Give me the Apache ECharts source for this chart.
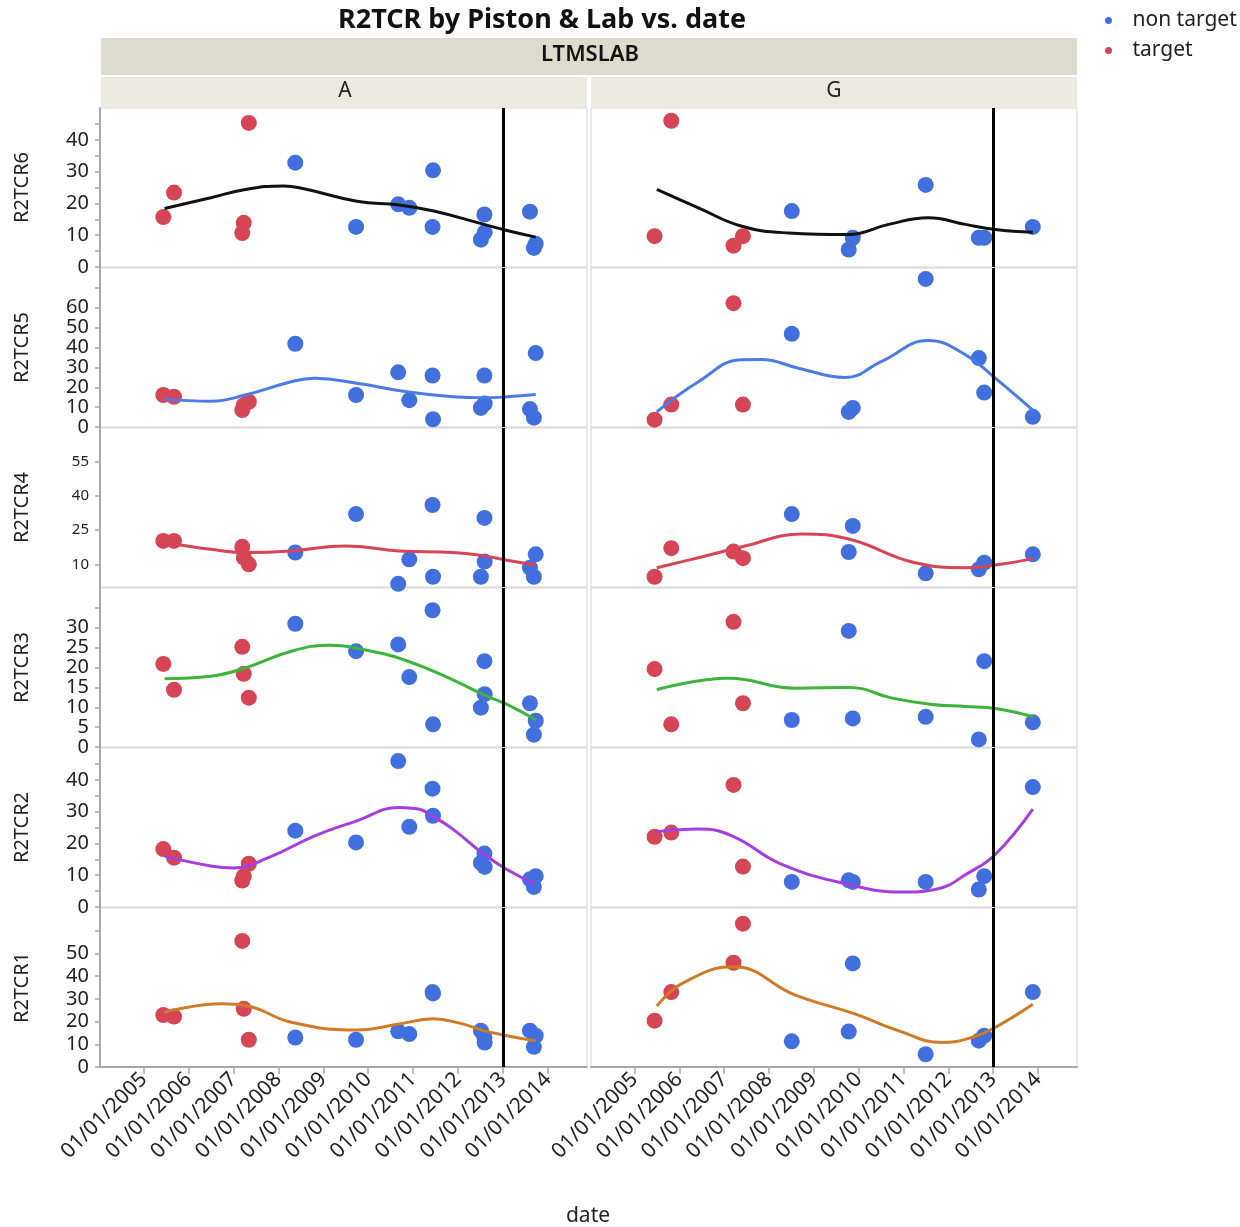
<!DOCTYPE html>
<html><head><meta charset="utf-8">
<script src="https://cdn.jsdelivr.net/npm/echarts@6/dist/echarts.min.js"></script>
<style>html,body{margin:0;padding:0;background:#fff}#c{width:1240px;height:1227px}</style>
</head><body><div id="c"></div><script>
// ---------- data ----------
const measures = ['R2TCR6','R2TCR5','R2TCR4','R2TCR3','R2TCR2','R2TCR1'];
const labs = ['A','G'];
const groups = ['non target','target'];
const yearTicks = ['2005-01-01','2006-01-01','2007-01-01','2008-01-01','2009-01-01','2010-01-01','2011-01-01','2012-01-01','2013-01-01','2014-01-01'];
const refDate = '2013-01-01';
const xRange = ['2004-01-12','2014-11-15'];

const datesA = ['2005-06-10','2005-09-05','2007-03-14','2007-03-26','2007-05-06','2008-05-18','2009-09-24','2010-09-02','2010-12-01','2011-06-08','2011-06-12','2012-07-05','2012-08-03','2012-08-05','2013-08-08','2013-09-09','2013-09-24'];
const groupA = ['target','target','target','target','target','non target','non target','non target','non target','non target','non target','non target','non target','non target','non target','non target','non target'];
const datesG = ['2005-06-13','2005-10-27','2007-03-18','2007-06-03','2008-07-05','2009-10-12','2009-11-14','2011-07-01','2012-09-06','2012-10-20','2013-11-20'];
const groupG = ['target','target','target','target','non target','non target','non target','non target','non target','non target','non target'];

const R2TCR6_A = [15.7,23.4,10.7,13.9,45.3,32.8,12.6,19.7,18.6,12.6,30.4,8.6,16.5,10.9,17.4,6.0,7.3];
const R2TCR5_A = [16.1,15.2,8.5,11.0,12.7,41.9,16.1,27.5,13.5,25.9,3.9,9.6,25.9,11.8,9.0,4.7,37.2];
const R2TCR4_A = [20.3,20.3,17.7,13.0,10.0,15.2,32.1,1.4,12.2,36.1,4.5,4.5,30.4,11.2,8.5,4.5,14.4];
const R2TCR3_A = [20.9,14.4,25.2,18.4,12.4,31.0,24.1,25.8,17.6,34.4,5.7,9.9,21.6,13.3,11.0,3.1,6.6];
const R2TCR2_A = [18.2,15.5,8.3,9.7,13.6,24.0,20.3,45.9,25.2,37.2,28.7,13.9,16.8,12.6,8.7,6.3,9.7];
const R2TCR1_A = [22.9,22.2,55.5,25.6,12.0,13.0,12.0,15.7,14.5,33.0,32.4,16.0,13.0,10.8,16.0,8.9,13.8];

const R2TCR6_G = [9.7,46.0,6.7,9.7,17.6,5.5,9.2,25.8,9.2,9.2,12.6];
const R2TCR5_G = [3.7,11.3,62.3,11.3,46.9,7.6,9.6,74.5,34.7,17.3,5.1];
const R2TCR4_G = [4.5,17.1,15.6,12.7,32.1,15.4,26.9,6.0,7.8,10.7,14.4];
const R2TCR3_G = [19.6,5.7,31.5,11.0,6.8,29.2,7.2,7.6,1.9,21.6,6.2];
const R2TCR2_G = [22.1,23.4,38.4,12.7,7.9,8.4,7.9,7.9,5.5,9.7,37.7];
const R2TCR1_G = [20.4,33.0,45.9,63.1,11.3,15.6,45.6,5.6,11.6,13.8,33.0];

// smoother curves: [date, value]
const fit_R2TCR6_A = [['2005-06-20',18.4],['2006-07-01',21.8],['2007-04-08',24.4],['2008-02-14',25.5],['2008-07-18',24.7],['2009-10-01',20.7],['2010-09-09',19.5],['2011-06-18',17.6],['2012-07-30',13.4],['2013-02-02',11.5],['2013-09-24',9.4]];
const fit_R2TCR6_G = [['2005-07-01',24.4],['2006-06-05',18.6],['2007-05-26',12.8],['2008-06-10',10.7],['2009-10-12',10.2],['2010-09-02',13.4],['2011-07-22',15.5],['2012-05-19',13.4],['2013-01-20',11.8],['2013-11-20',10.9]];
const fit_R2TCR5_A = [['2005-06-20',13.9],['2006-07-01',13.0],['2007-04-08',16.1],['2008-04-15',22.8],['2008-10-23',24.5],['2009-10-01',22.0],['2010-11-10',17.7],['2011-11-20',15.2],['2012-07-30',14.7],['2013-02-02',15.2],['2013-09-24',16.4]];
const fit_R2TCR5_G = [['2005-07-01',7.6],['2006-06-05',22.8],['2007-05-26',33.8],['2007-11-01',33.9],['2008-08-28',29.6],['2009-09-12',24.9],['2010-07-08',33.0],['2011-07-22',43.5],['2012-05-19',36.4],['2013-01-20',24.5],['2013-11-20',8.5]];
const fit_R2TCR4_A = [['2005-06-20',19.6],['2006-07-01',16.6],['2007-04-08',15.2],['2008-04-15',15.9],['2009-06-28',18.1],['2010-09-09',15.9],['2011-11-20',15.2],['2012-07-30',13.7],['2013-02-02',11.8],['2013-09-24',9.7]];
const fit_R2TCR4_G = [['2005-07-01',8.5],['2006-06-05',12.9],['2007-05-26',17.7],['2008-09-27',23.3],['2009-10-12',21.1],['2011-04-05',10.7],['2012-05-19',8.5],['2013-01-20',9.7],['2013-11-20',12.5]];
const fit_R2TCR3_A = [['2005-06-20',17.2],['2006-07-01',17.8],['2007-04-08',19.9],['2008-04-15',24.1],['2009-02-24',25.6],['2009-12-01',24.5],['2010-11-10',21.7],['2011-11-20',16.9],['2012-07-30',13.1],['2013-02-02',10.7],['2013-09-24',6.8]];
const fit_R2TCR3_G = [['2005-07-01',14.4],['2007-02-06',17.3],['2008-08-04',14.8],['2009-10-12',15.0],['2010-10-01',12.3],['2011-08-22',10.7],['2012-05-19',10.2],['2013-01-20',9.7],['2013-11-20',7.6]];
const fit_R2TCR2_A = [['2005-06-20',16.0],['2006-07-01',12.9],['2007-01-05',12.3],['2007-10-12',15.5],['2008-10-23',22.4],['2009-10-01',27.1],['2010-09-09',31.3],['2011-02-14',30.8],['2011-06-10',28.5],['2011-11-20',24.5],['2012-07-30',16.6],['2013-02-02',11.8],['2013-09-24',7.1]];
const fit_R2TCR2_G = [['2005-07-01',23.7],['2006-06-05',24.5],['2007-03-05',22.4],['2008-04-15',13.4],['2009-10-12',7.1],['2010-12-20',4.7],['2011-09-16',5.5],['2012-06-17',10.8],['2013-01-20',16.6],['2013-11-20',30.8]];
const fit_R2TCR1_A = [['2005-06-20',24.1],['2006-10-01',27.8],['2007-04-08',27.1],['2008-04-15',19.7],['2009-10-01',16.3],['2010-09-09',18.9],['2011-06-10',21.2],['2012-01-22',19.2],['2012-07-30',16.0],['2013-02-02',13.8],['2013-09-24',11.5]];
const fit_R2TCR1_G = [['2005-07-01',26.8],['2006-01-22',36.7],['2007-03-18',44.1],['2008-08-04',31.6],['2009-12-01',23.4],['2010-11-20',16.0],['2011-11-10',10.8],['2012-07-12',13.0],['2013-01-20',17.5],['2013-11-20',27.6]];

// axis scales per row
const yMax = [50, 80, 70, 40, 50, 70];
const yTicks = [
  [0,5,10,15,20,25,30,35,40,45],
  [0,10,20,30,40,50,60,70],
  [10,25,40,55],
  [0,5,10,15,20,25,30,35],
  [0,5,10,15,20,25,30,35,40,45],
  [0,10,20,30,40,50,60]
];
const yLabels = [
  [0,10,20,30,40],
  [0,10,20,30,40,50,60],
  [10,25,40,55],
  [0,5,10,15,20,25,30],
  [0,10,20,30,40],
  [0,10,20,30,40,50]
];
const fitColors = ['#111111','#4a7be6','#d64555','#3cb43c','#a43ee0','#d07a26'];

// ---------- build ----------
const ts = s => { const p = s.split('-').map(Number); return new Date(p[0], p[1]-1, p[2]).getTime(); };
const pad = n => (n < 10 ? '0' : '') + n;
const fmt = v => { const d = new Date(v); return pad(d.getMonth()+1) + '/' + pad(d.getDate()) + '/' + d.getFullYear(); };
const values = {R2TCR6_A,R2TCR5_A,R2TCR4_A,R2TCR3_A,R2TCR2_A,R2TCR1_A,R2TCR6_G,R2TCR5_G,R2TCR4_G,R2TCR3_G,R2TCR2_G,R2TCR1_G};
const fits = {fit_R2TCR6_A,fit_R2TCR6_G,fit_R2TCR5_A,fit_R2TCR5_G,fit_R2TCR4_A,fit_R2TCR4_G,fit_R2TCR3_A,fit_R2TCR3_G,fit_R2TCR2_A,fit_R2TCR2_G,fit_R2TCR1_A,fit_R2TCR1_G};
const labDates = {A: datesA, G: datesG};
const labGroups = {A: groupA, G: groupG};
const groupColor = {'non target':'#4170de','target':'#d64555'};

const FONT = 'Noto Sans';
const colLeft = [100, 591], colW = [487, 486];
const rowTop0 = 108, rowStep = 160, rowH = 159;

const grid = [], xAxis = [], yAxis = [], series = [];
const xTickVals = yearTicks.map(ts);
measures.forEach((m, r) => {
  labs.forEach((lab, c) => {
    const gi = grid.length;
    grid.push({left: colLeft[c], width: colW[c], top: rowTop0 + r*rowStep, height: rowH,
      show: true, borderColor: '#d2d2d2', borderWidth: 1, backgroundColor: '#fff'});
    const bottom = r === measures.length - 1;
    xAxis.push({type: 'value', gridIndex: gi, min: ts(xRange[0]), max: ts(xRange[1]),
      show: bottom,
      axisLine: {show: true, lineStyle: {color: '#a8a8a8', width: 2}},
      axisTick: {show: true, length: 7, lineStyle: {color: '#a8a8a8', width: 1.5}, customValues: xTickVals},
      axisLabel: {show: true, rotate: 45, fontFamily: FONT, fontSize: 21, color: '#222', margin: 9,
        customValues: xTickVals, formatter: v => fmt(v), hideOverlap: false},
      splitLine: {show: false}});
    yAxis.push({type: 'value', gridIndex: gi, min: 0, max: yMax[r],
      name: c === 0 ? m : '', nameLocation: 'middle', nameGap: 68,
      nameTextStyle: {fontFamily: FONT, fontSize: 20, color: '#222'},
      axisLine: {show: c === 0, lineStyle: {color: '#a8a8a8', width: 2}},
      axisTick: {show: c === 0, length: 5, lineStyle: {color: '#a8a8a8', width: 1.5}, customValues: yTicks[r]},
      axisLabel: {show: c === 0, fontFamily: FONT, fontSize: r === 2 ? 15 : 20, color: '#222', margin: 11,
        customValues: yLabels[r]},
      splitLine: {show: false}});
    const vals = values[m + '_' + lab];
    const dts = labDates[lab], grp = labGroups[lab];
    groups.forEach(g => {
      const data = [];
      vals.forEach((v, i) => { if (grp[i] === g) data.push([ts(dts[i]), v]); });
      series.push({type: 'scatter', name: g, xAxisIndex: gi, yAxisIndex: gi, data,
        symbolSize: 16, itemStyle: {color: groupColor[g], opacity: 1}, z: 2});
    });
    series.push({type: 'line', name: 'fit', xAxisIndex: gi, yAxisIndex: gi,
      data: fits['fit_' + m + '_' + lab].map(p => [ts(p[0]), p[1]]),
      smooth: 0.45, showSymbol: false, lineStyle: {color: fitColors[r], width: 3}, z: 3,
      markLine: {silent: true, symbol: 'none', label: {show: false},
        lineStyle: {color: '#000', width: 3, type: 'solid'},
        data: [{xAxis: ts(refDate)}]}});
  });
});

const chart = echarts.init(document.getElementById('c'));
chart.setOption({
  animation: false,
  backgroundColor: '#fff',
  title: {text: 'R2TCR by Piston & Lab vs. date', left: 537, top: 2, textAlign: 'center',
    textStyle: {fontFamily: FONT, fontSize: 27, fontWeight: 'bold', color: '#111'}},
  legend: {data: ['non target','target'], orient: 'vertical', left: 1100, top: 5,
    icon: 'circle', itemWidth: 30, itemHeight: 7, itemGap: 9,
    textStyle: {fontFamily: FONT, fontSize: 21, color: '#222', padding: [0, 0, 0, 4]}},
  graphic: [
    {type: 'rect', shape: {x: 101, y: 38, width: 976, height: 37}, style: {fill: '#dcdbcd'}, silent: true},
    {type: 'text', x: 590, y: 55, style: {text: 'LTMSLAB', fontFamily: FONT, fontSize: 22, fontWeight: 600, fill: '#111', align: 'center', verticalAlign: 'middle'}},
    {type: 'rect', shape: {x: 101, y: 77, width: 486, height: 30}, style: {fill: '#ebeae2'}, silent: true},
    {type: 'rect', shape: {x: 591, y: 77, width: 486, height: 30}, style: {fill: '#ebeae2'}, silent: true},
    {type: 'text', x: 345, y: 91, style: {text: 'A', fontFamily: FONT, fontSize: 21, fill: '#222', align: 'center', verticalAlign: 'middle'}},
    {type: 'text', x: 834, y: 91, style: {text: 'G', fontFamily: FONT, fontSize: 21, fill: '#222', align: 'center', verticalAlign: 'middle'}},
    {type: 'text', x: 588, y: 1216, style: {text: 'date', fontFamily: FONT, fontSize: 21, fill: '#222', align: 'center', verticalAlign: 'middle'}}
  ],
  grid, xAxis, yAxis, series
});
</script></body></html>
